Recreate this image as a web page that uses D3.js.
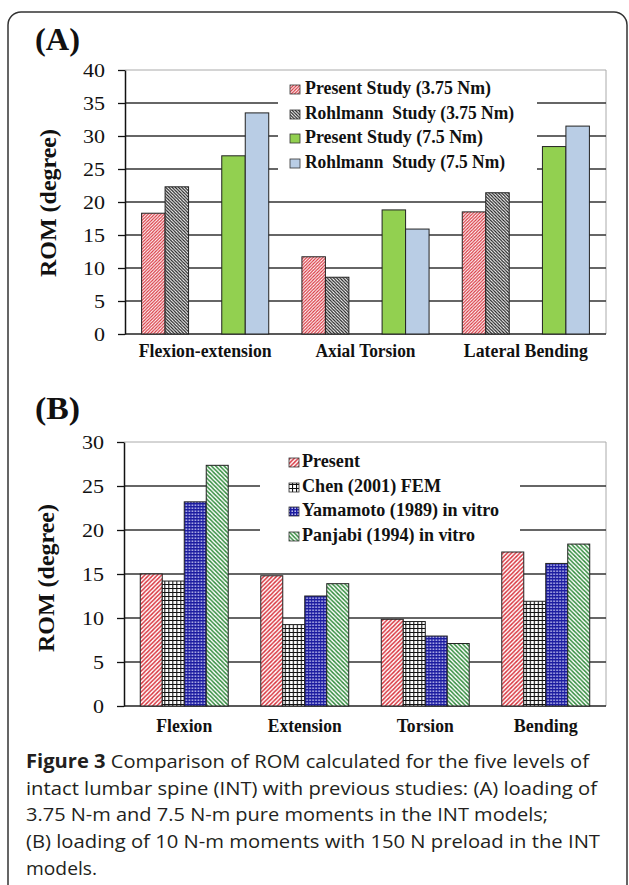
<!DOCTYPE html>
<html>
<head>
<meta charset="utf-8">
<script src="https://cdn.jsdelivr.net/npm/d3@7"></script>
<style>
  body { margin: 0; background: #fff; }
  svg { display: block; }
</style>
</head>
<body>
<svg id="fig" width="629" height="885"></svg>
<script>
// Panel A data
const catsA = ["Flexion-extension", "Axial Torsion", "Lateral Bending"];
const seriesA = ["Present Study (3.75 Nm)", "Rohlmann  Study (3.75 Nm)", "Present Study (7.5 Nm)", "Rohlmann  Study (7.5 Nm)"];
const present375 = [18.3, 11.7, 18.5];
const rohlmann375 = [22.3, 8.6, 21.4];
const present75 = [27.0, 18.8, 28.4];
const rohlmann75 = [33.5, 15.9, 31.5];
const ticksA = [0, 5, 10, 15, 20, 25, 30, 35, 40];

// Panel B data
const catsB = ["Flexion", "Extension", "Torsion", "Bending"];
const seriesB = ["Present", "Chen (2001) FEM", "Yamamoto (1989) in vitro", "Panjabi (1994) in vitro"];
const presentB = [15.0, 14.8, 9.85, 17.5];
const chenB = [14.2, 9.25, 9.6, 11.9];
const yamamotoB = [23.2, 12.5, 7.95, 16.2];
const panjabiB = [27.35, 13.9, 7.1, 18.4];
const ticksB = [0, 5, 10, 15, 20, 25, 30];

const captionLines = [
  ["Figure 3", " Comparison of ROM calculated for the five levels of"],
  ["", "intact lumbar spine (INT) with previous studies: (A) loading of"],
  ["", "3.75 N-m and 7.5 N-m pure moments in the INT models;"],
  ["", "(B) loading of 10 N-m moments with 150 N preload in the INT"],
  ["", "models."]
];

const svg = d3.select("#fig");
const serif = "'Liberation Serif', 'Times New Roman', serif";

// ---- patterns
const defs = svg.append("defs");
function hatch(id, color, dir, size, sw) {
  const p = defs.append("pattern").attr("id", id)
    .attr("patternUnits", "userSpaceOnUse")
    .attr("width", size).attr("height", size);
  p.append("rect").attr("width", size).attr("height", size).attr("fill", "#fff");
  const s = size;
  const d = dir === "/"
    ? `M-1,1 l2,-2 M0,${s} l${s},-${s} M${s-1},${s+1} l2,-2`
    : `M-1,${s-1} l2,2 M0,0 l${s},${s} M${s-1},-1 l2,2`;
  p.append("path").attr("d", d).attr("stroke", color).attr("stroke-width", sw);
}
hatch("redA", "#d8323c", "/", 3.2, 1.2);
hatch("blkA", "#1a1a1a", "\\", 3.2, 1.2);
hatch("redB", "#d8323c", "/", 4.2, 1.4);
hatch("grnB", "#2f8a3a", "\\", 4.2, 1.4);

const grid = defs.append("pattern").attr("id", "gridB")
  .attr("patternUnits", "userSpaceOnUse").attr("width", 4).attr("height", 4);
grid.append("rect").attr("width", 4).attr("height", 4).attr("fill", "#fff");
grid.append("path").attr("d", "M0,0.5 H4 M0.5,0 V4").attr("stroke", "#111").attr("stroke-width", 1.2);

const dots = defs.append("pattern").attr("id", "dotB")
  .attr("patternUnits", "userSpaceOnUse").attr("width", 3).attr("height", 3);
dots.append("rect").attr("width", 3).attr("height", 3).attr("fill", "#1c1ca0");
dots.append("rect").attr("x", 0.5).attr("y", 0.5).attr("width", 1.4).attr("height", 1.4).attr("fill", "#dfe0ff");

const fillsA = ["url(#redA)", "url(#blkA)", "#92d050", "#b9cde5"];
const fillsB = ["url(#redB)", "url(#gridB)", "url(#dotB)", "url(#grnB)"];

// ---- outer frame
svg.append("rect").attr("x", 8).attr("y", 12).attr("width", 619).attr("height", 900)
  .attr("rx", 13).attr("fill", "none").attr("stroke", "#333").attr("stroke-width", 1.5);

// ---- generic panel
function panel(o) {
  const g = svg.append("g");
  const y = d3.scaleLinear().domain([0, o.max]).range([o.bottom, o.top]);

  // plot border (light grey)
  g.append("path")
    .attr("d", `M${o.left},${o.top} H${o.right} V${o.bottom}`)
    .attr("fill", "none").attr("stroke", "#aaa").attr("stroke-width", 1);

  // gridlines
  g.selectAll(".grid").data(o.ticks.filter(t => t > 0 && t < o.max)).enter()
    .append("line")
    .attr("x1", o.left).attr("x2", o.right)
    .attr("y1", d => y(d)).attr("y2", d => y(d))
    .attr("stroke", "#333").attr("stroke-width", 1.5);

  // legend box hides gridlines
  g.append("rect").attr("x", o.leg.x0).attr("y", o.leg.y0)
    .attr("width", o.leg.x1 - o.leg.x0).attr("height", o.leg.y1 - o.leg.y0)
    .attr("fill", "#fff");

  // baseline
  g.append("line").attr("x1", o.left).attr("x2", o.right)
    .attr("y1", o.bottom).attr("y2", o.bottom)
    .attr("stroke", "#222").attr("stroke-width", 1.5);

  // bars
  const x0 = d3.scaleBand().domain(d3.range(o.clusters.length))
    .range([o.left, o.right]).paddingInner(o.pad).paddingOuter(o.pad / 2);
  const x1 = d3.scaleBand().domain(d3.range(o.clusters[0].length))
    .range([0, x0.bandwidth()]);
  const cl = g.selectAll(".cluster").data(o.clusters).enter()
    .append("g").attr("transform", (d, i) => `translate(${x0(i)},0)`);
  cl.selectAll("rect").data(d => d).enter().append("rect")
    .attr("x", (d, i) => x1(i))
    .attr("y", d => y(d.v))
    .attr("width", x1.bandwidth())
    .attr("height", d => o.bottom - y(d.v))
    .attr("fill", d => d.fill)
    .attr("stroke", "#222").attr("stroke-width", 1);

  // y axis
  const ax = g.append("g").attr("transform", `translate(${o.left},0)`)
    .call(d3.axisLeft(y).tickValues(o.ticks).tickSize(7).tickSizeOuter(0).tickPadding(13));
  ax.select(".domain").attr("stroke", "#111").attr("stroke-width", 1.5);
  ax.selectAll(".tick line").attr("stroke", "#111").attr("stroke-width", 1.3);
  ax.selectAll(".tick text")
    .attr("font-family", serif).attr("font-size", 19).attr("fill", "#111")
    .attr("textLength", d => String(d).length * 11).attr("lengthAdjust", "spacingAndGlyphs");

  // y title
  g.append("text")
    .attr("transform", `translate(${o.ytx},${o.yty}) rotate(-90)`)
    .attr("text-anchor", "middle")
    .attr("font-family", serif).attr("font-weight", "bold").attr("font-size", 23)
    .attr("textLength", 148).attr("lengthAdjust", "spacingAndGlyphs")
    .attr("fill", "#111")
    .text("ROM (degree)");

  // category labels
  g.selectAll(".cat").data(o.cats).enter().append("text")
    .attr("x", (d, i) => o.catX(i, x0))
    .attr("y", o.catY)
    .attr("text-anchor", "middle")
    .attr("font-family", serif).attr("font-weight", "bold").attr("font-size", 18)
    .attr("textLength", (d, i) => o.catW[i]).attr("lengthAdjust", "spacingAndGlyphs")
    .attr("fill", "#111")
    .text(d => d);

  // panel letter
  g.append("text").attr("x", 35).attr("y", o.letterY)
    .attr("font-family", serif).attr("font-weight", "bold").attr("font-size", 31)
    .attr("textLength", 45).attr("lengthAdjust", "spacingAndGlyphs")
    .attr("fill", "#111").text(o.letter);

  // legend
  const lg = g.selectAll(".leg").data(o.series).enter().append("g")
    .attr("transform", (d, i) => `translate(0,${o.leg.rows[i]})`);
  lg.append("rect").attr("x", o.leg.sx).attr("y", -9).attr("width", 10).attr("height", 9)
    .attr("fill", (d, i) => o.fills[i]).attr("stroke", "#333").attr("stroke-width", 0.8);
  lg.append("text").attr("x", o.leg.tx).attr("y", 0)
    .attr("font-family", serif).attr("font-weight", "bold").attr("font-size", o.leg.fs)
    .attr("textLength", (d, i) => o.leg.w[i]).attr("lengthAdjust", "spacingAndGlyphs")
    .attr("fill", "#111")
    .style("white-space", "pre")
    .text(d => d);
}

// Panel A: two bars per cluster, two clusters per motion
const clustersA = [];
catsA.forEach((c, i) => {
  clustersA.push([{ v: present375[i], fill: fillsA[0] }, { v: rohlmann375[i], fill: fillsA[1] }]);
  clustersA.push([{ v: present75[i], fill: fillsA[2] }, { v: rohlmann75[i], fill: fillsA[3] }]);
});
panel({
  letter: "(A)", letterY: 50,
  max: 40, ticks: ticksA, top: 70, bottom: 334, left: 125, right: 606,
  clusters: clustersA, pad: 0.414,
  cats: catsA, catY: 357, catW: [133, 100, 124],
  catX: (i, x0) => (x0(2 * i) + x0(2 * i + 1) + x0.bandwidth()) / 2,
  ytx: 56, yty: 203,
  series: seriesA, fills: fillsA,
  leg: { x0: 278, x1: 537, y0: 76, y1: 185, sx: 290, tx: 305, fs: 19,
         rows: [94, 119, 143, 168], w: [186, 209, 178, 200] }
});

// Panel B: four bars per motion
const clustersB = catsB.map((c, i) => [
  { v: presentB[i], fill: fillsB[0] },
  { v: chenB[i], fill: fillsB[1] },
  { v: yamamotoB[i], fill: fillsB[2] },
  { v: panjabiB[i], fill: fillsB[3] }
]);
panel({
  letter: "(B)", letterY: 419,
  max: 30, ticks: ticksB, top: 442, bottom: 706, left: 124, right: 606,
  clusters: clustersB, pad: 0.27,
  cats: catsB, catY: 732, catW: [56, 74, 57, 64],
  catX: (i, x0) => x0(i) + x0.bandwidth() / 2,
  ytx: 54, yty: 578,
  series: seriesB, fills: fillsB,
  leg: { x0: 260, x1: 520, y0: 450, y1: 556, sx: 289, tx: 302, fs: 18,
         rows: [467, 492, 516, 541], w: [58, 139, 197, 173] }
});

// caption
const capW = [563, 571, 522, 574, 71];
const cap = svg.append("g");
captionLines.forEach((ln, i) => {
  const t = cap.append("text").attr("x", 26).attr("y", 768 + i * 26.7)
    .attr("font-family", "'Open Sans', 'Noto Sans', sans-serif").attr("font-size", 19)
    .attr("fill", "#231f20")
    .attr("textLength", capW[i]).attr("lengthAdjust", "spacingAndGlyphs");
  if (ln[0]) t.append("tspan").attr("font-weight", "bold").text(ln[0]);
  t.append("tspan").text(ln[1]);
});
</script>
</body>
</html>
